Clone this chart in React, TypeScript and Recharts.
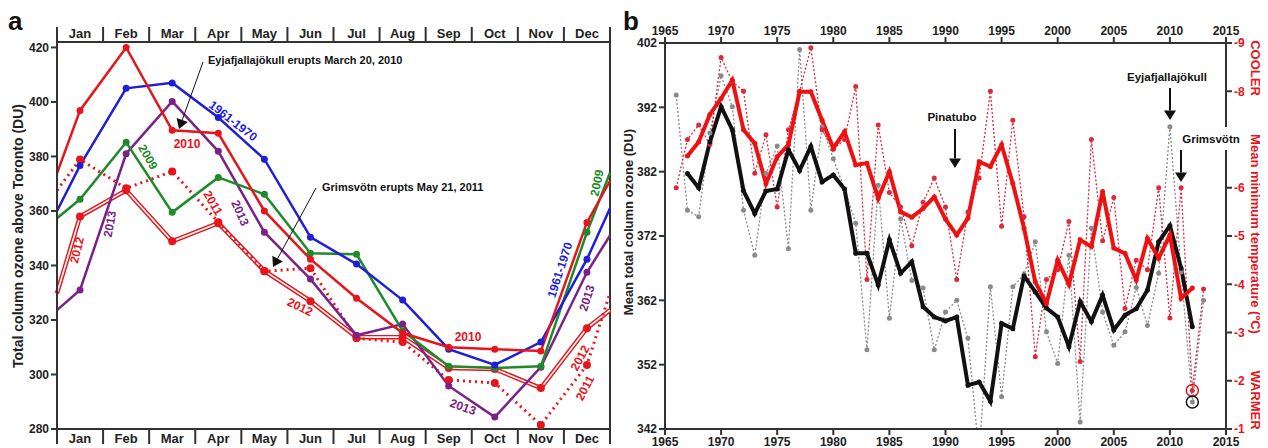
import React from 'react'
import { LineChart, Line, XAxis, YAxis, ReferenceLine, ReferenceDot } from 'recharts'

const FONT = '"Liberation Sans", Arial, sans-serif'
const AXIS = '#333'
const RED = '#e8141b'
const BLUE = '#1f1fd8'
const GREEN = '#1f8a2a'
const PURPLE = '#7a2288'

// ---- panel a: monthly ozone above Toronto ----
const months = ['Jan', 'Feb', 'Mar', 'Apr', 'May', 'Jun', 'Jul', 'Aug', 'Sep', 'Oct', 'Nov', 'Dec']
// 0.5 and 12.5 are the values where the curves meet the frame
const monthX = [0.5, 1, 2, 3, 4, 5, 6, 7, 8, 9, 10, 11, 12, 12.5]
const monthEdges = [0.5, 1.5, 2.5, 3.5, 4.5, 5.5, 6.5, 7.5, 8.5, 9.5, 10.5, 11.5, 12.5]
const ozoneTicksA = [280, 300, 320, 340, 360, 380, 400, 420]

const oz1961_1970 = [360, 376.7, 405, 407, 394.3, 379, 350.4, 340.5, 327.3, 309.3, 303.5, 311.9, 342.3, 361]
const oz2009 = [357.3, 364.3, 385.2, 359.5, 372.3, 366.1, 344.5, 344.1, 316, 303, 302.4, 303, 352.2, 374]
const oz2010 = [373.8, 396.9, 420, 389.6, 388.5, 360, 342.3, 328, 315.2, 310, 309.3, 308.6, 355.8, 371]
const oz2011 = [367.6, 378.9, 368.3, 374.5, 355.9, 337.9, 339, 313.3, 311.9, 298, 296.9, 281.5, 303.5, 330]
const oz2012 = [329.8, 358, 367.6, 348.9, 355.5, 338, 326.9, 313.7, 313.7, 302.4, 302, 295, 317, 323.6]
const oz2013 = [323.6, 331, 381, 400.2, 381.9, 352.2, 335, 314.4, 318.5, 295.8, 284.4, 302.7, 337.5, 351]

const aData = monthX.map((m, i) => ({
  m,
  y1961: oz1961_1970[i],
  y2009: oz2009[i],
  y2010: oz2010[i],
  y2011: oz2011[i],
  y2012: oz2012[i],
  y2013: oz2013[i],
}))

// ---- panel b: yearly ozone and minimum temperature ----
const years = Array.from({ length: 48 }, (_, i) => 1966 + i)
const yearTicks = [1965, 1970, 1975, 1980, 1985, 1990, 1995, 2000, 2005, 2010, 2015]
const ozoneTicksB = [342, 352, 362, 372, 382, 392, 402]
const tempTicks = [-9, -8, -6, -5, -4, -3, -2, -1]

const ozoneAnnual = [
  393.9, 376, 375, 388, 396.9, 392.1, 376, 369, 381.7, 386, 370, 401, 376, 389, 384, 379.3,
  374, 354.3, 379.9, 359.2, 374.7, 365.1, 363.9, 354.3, 360.2, 362, 356.1, 338, 364.1, 347,
  364.1, 366, 371.1, 357.1, 352.2, 369, 343.1, 373.2, 360.2, 355, 357.1, 364, 358.1, 366.2,
  389, 366.4, 346.2, 362,
]
const tempAnnual = [
  -6.0, -7.0, -7.3, -6.9, -8.7, -8.2, -8.0, -6.3, -7.1, -5.6, -7.2, -8.0, -8.9, -7.2, -6.8, -7.0,
  -8.1, -4.1, -7.3, -5.9, -5.6, -4.8, -5.7, -6.2, -5.6, -4.1, -5.5, -6.2, -8.0, -5.2, -7.4, -5.4,
  -2.5, -4.1, -4.3, -5.3, -2.4, -7.0, -4.9, -5.8, -3.5, -4.5, -4.3, -6.0, -3.3, -6.0, -1.8, -3.9,
]
// smoothed curves, 1967-2012
const ozoneSmooth = [
  381.7, 379.5, 386.6, 392.1, 388.5, 379, 375.5, 379, 379.3, 385.4, 382.2, 385.9, 380.4, 381.5,
  379.3, 369.3, 369.3, 364.4, 371.4, 366.2, 368, 361, 359.4, 358.8, 359.4, 348.8, 349.3, 346.3,
  358.4, 357.6, 365.8, 363.3, 360.8, 359.4, 354.8, 361.8, 358.7, 362.8, 357.4, 359.7, 360.7,
  363.6, 371.1, 373.6, 367, 357.9,
]
const tempSmooth = [
  -6.66, -6.95, -7.52, -7.85, -8.23, -7.2, -6.92, -6.09, -6.64, -6.89, -7.99, -7.99, -7.4, -6.82,
  -7.16, -6.47, -6.51, -5.78, -6.33, -5.5, -5.39, -5.57, -5.81, -5.35, -5.02, -5.37, -6.54, -6.44,
  -6.89, -6.09, -5.16, -4.05, -3.6, -4.5, -4.0, -4.92, -4.78, -5.92, -4.75, -4.64, -4.09, -4.95,
  -4.54, -5.02, -3.71, -3.92,
]

const bData = years.map((year, i) => ({
  year,
  ozA: ozoneAnnual[i],
  tA: tempAnnual[i],
  ozS: i >= 1 && i <= 46 ? ozoneSmooth[i - 1] : null,
  tS: i >= 1 && i <= 46 ? tempSmooth[i - 1] : null,
}))
const i2012 = years.indexOf(2012)

const A_HALF = (610 - 57) / 24

const monthTick = (side: 'top' | 'bottom') => (props: any) => {
  const { x, y, payload } = props
  const idx = payload.value - 0.5
  if (idx >= 12) return <g />
  return (
    <text
      x={x + A_HALF}
      y={side === 'bottom' ? y - 8 : y + 8}
      textAnchor="middle"
      dominantBaseline="central"
      fontFamily={FONT}
      fontWeight="bold"
      fontSize={13}
      fill="#222"
    >
      {months[idx]}
    </text>
  )
}

const monthDot = (color: string, r: number) => (props: any) => {
  const { cx, cy, payload, index } = props
  if (!Number.isInteger(payload.m) || cy == null) return <g key={index} />
  return <circle key={index} cx={cx} cy={cy} r={r} fill={color} />
}

const tickStyle = { fontFamily: FONT, fontWeight: 'bold' as const, fontSize: 12, fill: '#222' }

const Arrow = ({ x1, y1, x2, y2, w = 1, head = 6 }: any) => {
  const a = Math.atan2(y2 - y1, x2 - x1)
  const bx = x2 - Math.cos(a) * head * 1.6
  const by = y2 - Math.sin(a) * head * 1.6
  const px = Math.cos(a + Math.PI / 2) * head
  const py = Math.sin(a + Math.PI / 2) * head
  return (
    <g>
      <line x1={x1} y1={y1} x2={bx} y2={by} stroke="#111" strokeWidth={w} />
      <polygon points={`${x2},${y2} ${bx + px},${by + py} ${bx - px},${by - py}`} fill="#111" />
    </g>
  )
}

const Lbl = ({ x, y, r = 0, c, s = 12, children }: any) => (
  <text
    x={x}
    y={y}
    transform={`rotate(${r} ${x} ${y})`}
    textAnchor="middle"
    dominantBaseline="central"
    fontFamily={FONT}
    fontWeight="bold"
    fontSize={s}
    fill={c}
  >
    {children}
  </text>
)

const PanelA = () => (
  <LineChart width={625} height={448} data={aData} margin={{ top: 12, right: 15, bottom: 0, left: 12 }}>
    <XAxis
      xAxisId="bottom"
      dataKey="m"
      type="number"
      domain={[0.5, 12.5]}
      ticks={monthEdges}
      interval={0}
      height={19}
      tickSize={15}
      tick={monthTick('bottom')}
      axisLine={{ stroke: AXIS, strokeWidth: 2 }}
      tickLine={{ stroke: AXIS, strokeWidth: 2 }}
    />
    <XAxis
      xAxisId="top"
      orientation="top"
      dataKey="m"
      type="number"
      domain={[0.5, 12.5]}
      ticks={monthEdges}
      interval={0}
      height={30}
      tickSize={15}
      tick={monthTick('top')}
      axisLine={{ stroke: AXIS, strokeWidth: 2 }}
      tickLine={{ stroke: AXIS, strokeWidth: 2 }}
    />
    <YAxis
      domain={[280, 422]}
      ticks={ozoneTicksA}
      interval={0}
      width={45}
      tickSize={6}
      tick={tickStyle}
      axisLine={{ stroke: AXIS, strokeWidth: 2 }}
      tickLine={{ stroke: AXIS, strokeWidth: 2 }}
      allowDataOverflow
    />
    <ReferenceLine xAxisId="bottom" x={12.5} stroke={AXIS} strokeWidth={2} />
    <Line xAxisId="bottom" dataKey="y2012" stroke={RED} strokeWidth={4.5} dot={monthDot(RED, 4)} isAnimationActive={false} />
    <Line xAxisId="bottom" dataKey="y2012" stroke="#fff" strokeWidth={1.6} dot={false} isAnimationActive={false} />
    <Line xAxisId="bottom" dataKey="y2011" stroke={RED} strokeWidth={3} strokeDasharray="2 4" dot={monthDot(RED, 4)} isAnimationActive={false} />
    <Line xAxisId="bottom" dataKey="y2013" stroke={PURPLE} strokeWidth={2.5} dot={monthDot(PURPLE, 3.5)} isAnimationActive={false} />
    <Line xAxisId="bottom" dataKey="y2009" stroke={GREEN} strokeWidth={2.5} dot={monthDot(GREEN, 3.5)} isAnimationActive={false} />
    <Line xAxisId="bottom" dataKey="y1961" stroke={BLUE} strokeWidth={2.5} dot={monthDot(BLUE, 3.5)} isAnimationActive={false} />
    <Line xAxisId="bottom" dataKey="y2010" stroke={RED} strokeWidth={2.5} dot={monthDot(RED, 3.5)} isAnimationActive={false} />
  </LineChart>
)

const PanelB = () => (
  <LineChart width={643} height={448} data={bData} margin={{ top: 21, right: 12, bottom: 0, left: 12 }}>
    <XAxis
      xAxisId="bottom"
      dataKey="year"
      type="number"
      domain={[1965, 2015]}
      ticks={yearTicks}
      interval={0}
      height={19}
      tickSize={6}
      tick={tickStyle}
      axisLine={{ stroke: AXIS, strokeWidth: 2 }}
      tickLine={{ stroke: AXIS, strokeWidth: 2 }}
    />
    <XAxis
      xAxisId="top"
      orientation="top"
      dataKey="year"
      type="number"
      domain={[1965, 2015]}
      ticks={yearTicks}
      interval={0}
      height={22}
      tickSize={6}
      tick={tickStyle}
      axisLine={{ stroke: AXIS, strokeWidth: 2 }}
      tickLine={{ stroke: AXIS, strokeWidth: 2 }}
    />
    <YAxis
      yAxisId="oz"
      domain={[342, 402]}
      ticks={ozoneTicksB}
      interval={0}
      width={28}
      tickSize={6}
      tick={tickStyle}
      axisLine={{ stroke: AXIS, strokeWidth: 2 }}
      tickLine={{ stroke: AXIS, strokeWidth: 2 }}
      allowDataOverflow
    />
    <YAxis
      yAxisId="t"
      orientation="right"
      reversed
      domain={[-9, -1]}
      ticks={tempTicks}
      interval={0}
      width={30}
      tickSize={6}
      tick={{ ...tickStyle, fill: RED }}
      axisLine={{ stroke: AXIS, strokeWidth: 2 }}
      tickLine={{ stroke: AXIS, strokeWidth: 2 }}
      allowDataOverflow
    />
    <Line xAxisId="bottom" yAxisId="oz" dataKey="ozA" stroke="#8a8a8a" strokeWidth={1.3} strokeDasharray="2 2"
      dot={{ r: 2.5, fill: '#8a8a8a', stroke: 'none' }} isAnimationActive={false} />
    <Line xAxisId="bottom" yAxisId="t" dataKey="tA" stroke="#dd2a3a" strokeWidth={1.3} strokeDasharray="2 2"
      dot={{ r: 2.5, fill: '#dd2a3a', stroke: 'none' }} isAnimationActive={false} />
    <Line xAxisId="bottom" yAxisId="oz" dataKey="ozS" stroke="#111" strokeWidth={4}
      dot={{ r: 2.5, fill: '#111', stroke: 'none' }} isAnimationActive={false} />
    <Line xAxisId="bottom" yAxisId="t" dataKey="tS" stroke="#ee1111" strokeWidth={4}
      dot={{ r: 2.5, fill: '#ee1111', stroke: 'none' }} isAnimationActive={false} />
    <ReferenceDot xAxisId="bottom" yAxisId="t" x={2012} y={tempAnnual[i2012]} r={6} fill="none" stroke={RED} strokeWidth={1.5} />
    <ReferenceDot xAxisId="bottom" yAxisId="oz" x={2012} y={ozoneAnnual[i2012]} r={6} fill="none" stroke="#111" strokeWidth={1.5} />
  </LineChart>
)

const Overlay = () => (
  <svg width={1268} height={448} style={{ position: 'absolute', left: 0, top: 0, pointerEvents: 'none' }}>
    <text x={8} y={30} fontFamily={FONT} fontWeight="bold" fontSize={26} fill="#111">a</text>
    <text x={623} y={30} fontFamily={FONT} fontWeight="bold" fontSize={26} fill="#111">b</text>

    <Lbl x={18} y={236} r={-90} c="#222" s={14}>Total column ozone above Toronto (DU)</Lbl>
    <Lbl x={628} y={222} r={-90} c="#222" s={13}>Mean total column ozone (DU)</Lbl>
    <Lbl x={1255} y={68} r={90} c={RED} s={13}>COOLER</Lbl>
    <Lbl x={1255} y={234} r={90} c={RED} s={13}>Mean minimum temperature (ºC)</Lbl>
    <Lbl x={1255} y={400} r={90} c={RED} s={13}>WARMER</Lbl>

    {/* panel a annotations */}
    <text x={208} y={60} dominantBaseline="central" fontFamily={FONT} fontWeight="bold" fontSize={11} fill="#111">
      Eyjafjallajökull erupts March 20, 2010
    </text>
    <Arrow x1={203} y1={62} x2={179} y2={129} />
    <text x={322} y={187} dominantBaseline="central" fontFamily={FONT} fontWeight="bold" fontSize={11} fill="#111">
      Grimsvötn erupts May 21, 2011
    </text>
    <Arrow x1={316} y1={188} x2={273} y2={267} />

    <Lbl x={233} y={121} r={38} c={BLUE}>1961-1970</Lbl>
    <Lbl x={187} y={144} c={RED}>2010</Lbl>
    <Lbl x={148} y={157} r={60} c={GREEN}>2009</Lbl>
    <Lbl x={110} y={224} r={-80} c={PURPLE}>2013</Lbl>
    <Lbl x={77} y={250} r={-76} c={RED}>2012</Lbl>
    <Lbl x={213} y={203} r={60} c={RED}>2011</Lbl>
    <Lbl x={240} y={213} r={66} c={PURPLE}>2013</Lbl>
    <Lbl x={300} y={307} r={26} c={RED}>2012</Lbl>
    <Lbl x={468} y={337} c={RED}>2010</Lbl>
    <Lbl x={463} y={407} r={20} c={PURPLE}>2013</Lbl>
    <Lbl x={560} y={270} r={-72} c={BLUE}>1961-1970</Lbl>
    <Lbl x={587} y={298} r={-72} c={PURPLE}>2013</Lbl>
    <Lbl x={580} y={358} r={-62} c={RED}>2012</Lbl>
    <Lbl x={585} y={388} r={-62} c={RED}>2011</Lbl>
    <Lbl x={597} y={183} r={-78} c={GREEN}>2009</Lbl>

    {/* panel b annotations */}
    <text x={952} y={117} textAnchor="middle" dominantBaseline="central" fontFamily={FONT} fontWeight="bold" fontSize={11.5} fill="#111">
      Pinatubo
    </text>
    <Arrow x1={955} y1={129} x2={955} y2={168} w={2} head={6} />
    <text x={1167} y={77} textAnchor="middle" dominantBaseline="central" fontFamily={FONT} fontWeight="bold" fontSize={11.5} fill="#111">
      Eyjafjallajökull
    </text>
    <Arrow x1={1170} y1={88} x2={1170} y2={120} w={2} head={6} />
    <rect x={1176} y={127} width={72} height={23} fill="#fff" />
    <text x={1211} y={139} textAnchor="middle" dominantBaseline="central" fontFamily={FONT} fontWeight="bold" fontSize={11.5} fill="#111">
      Grimsvötn
    </text>
    <Arrow x1={1181} y1={150} x2={1181} y2={182} w={2} head={6} />
  </svg>
)

export default function App() {
  return (
    <div style={{ position: 'absolute', left: 0, top: 0, width: 1268, height: 448, background: '#fff', overflow: 'hidden' }}>
      <div style={{ position: 'absolute', left: 0, top: 0 }}>
        <PanelA />
      </div>
      <div style={{ position: 'absolute', left: 625, top: 0 }}>
        <PanelB />
      </div>
      <Overlay />
    </div>
  )
}
